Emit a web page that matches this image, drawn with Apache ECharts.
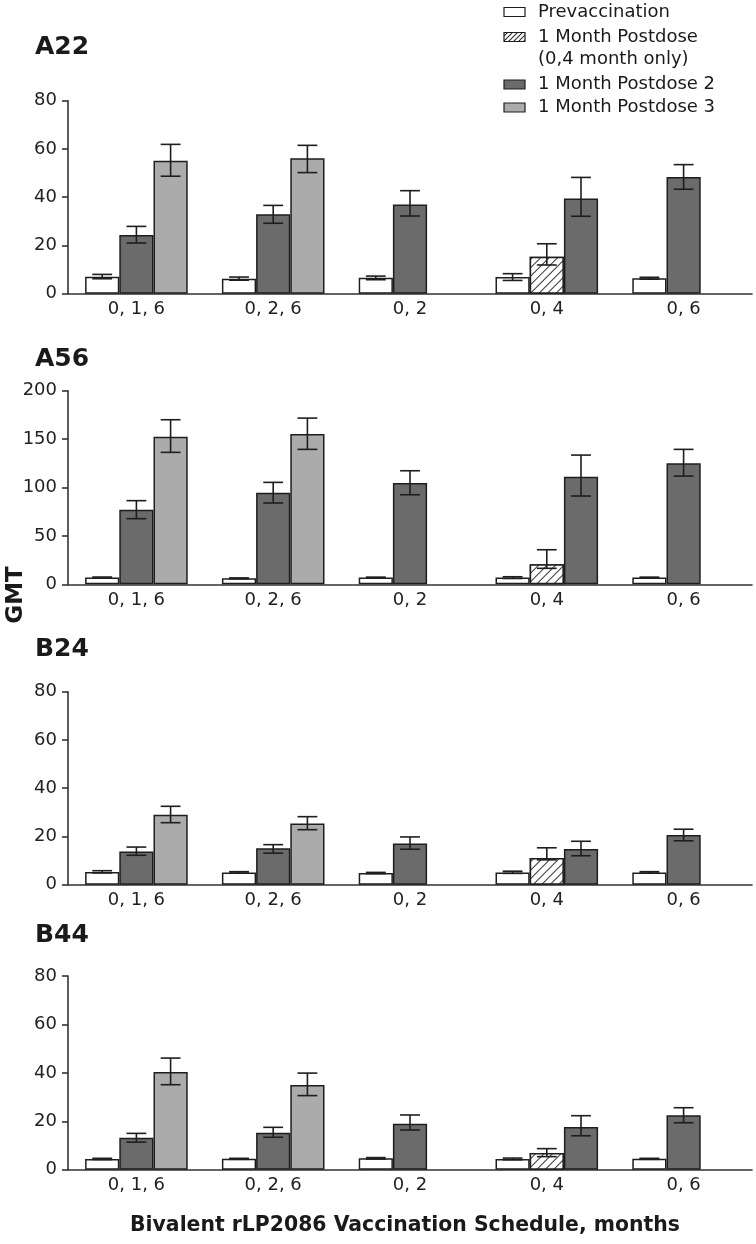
<!DOCTYPE html>
<html><head><meta charset="utf-8">
<script src="https://cdn.jsdelivr.net/npm/echarts@6/dist/echarts.min.js"></script>
<style>html,body{margin:0;padding:0;background:#fff}#c{width:756px;height:1244px}</style>
</head><body><div id="c"></div>
<script>
// ---------------- DATA ----------------
const categories = ['0, 1, 6', '0, 2, 6', '0, 2', '0, 4', '0, 6'];
const panelNames = ['A22', 'A56', 'B24', 'B44'];
const yMax = [80, 200, 80, 80];
const yInterval = [20, 50, 20, 20];

// A22
const a22Prevac = [7.0, 6.2, 6.6, 6.9, 6.4];
const a22PrevacCI = [[6.2, 8.0], [5.6, 6.9], [5.8, 7.3], [5.5, 8.3], [6.0, 6.8]];
const a22Post1 = [null, null, null, 15.3, null];
const a22Post1CI = [null, null, null, [11.9, 20.7], null];
const a22Post2 = [24.3, 32.9, 37.0, 39.5, 48.4];
const a22Post2CI = [[21.0, 27.9], [29.2, 36.6], [32.2, 42.7], [32.1, 48.2], [43.3, 53.5]];
const a22Post3 = [55.1, 56.1, null, null, null];
const a22Post3CI = [[48.7, 61.9], [50.2, 61.5], null, null, null];

// A56
const a56Prevac = [6.9, 6.2, 6.9, 6.9, 6.9];
const a56PrevacCI = [[6.3, 7.5], [5.8, 6.6], [6.4, 7.4], [6.0, 7.8], [6.4, 7.4]];
const a56Post1 = [null, null, null, 20.6, null];
const a56Post1CI = [null, null, null, [16.5, 35.7], null];
const a56Post2 = [77.1, 94.6, 104.6, 111.2, 125.0];
const a56Post2CI = [[67.8, 86.4], [84.0, 105.3], [92.5, 117.3], [91.2, 133.5], [111.8, 139.4]];
const a56Post3 = [152.5, 155.2, null, null, null];
const a56Post3CI = [[136.3, 170.0], [139.4, 171.7], null, null, null];

// B24
const b24Prevac = [5.3, 5.1, 4.85, 5.1, 5.1];
const b24PrevacCI = [[4.9, 5.8], [4.8, 5.4], [4.6, 5.1], [4.7, 5.6], [4.8, 5.4]];
const b24Post1 = [null, null, null, 11.1, null];
const b24Post1CI = [null, null, null, [10.3, 15.3], null];
const b24Post2 = [13.8, 15.1, 17.1, 14.8, 20.6];
const b24Post2CI = [[12.2, 15.6], [13.1, 16.6], [14.7, 19.8], [12.0, 18.0], [18.2, 23.0]];
const b24Post3 = [29.0, 25.4, null, null, null];
const b24Post3CI = [[25.7, 32.5], [22.8, 28.2], null, null, null];

// B44
const b44Prevac = [4.4, 4.5, 4.7, 4.4, 4.5];
const b44PrevacCI = [[4.2, 4.7], [4.3, 4.7], [4.4, 5.0], [4.1, 4.8], [4.3, 4.7]];
const b44Post1 = [null, null, null, 6.9, null];
const b44Post1CI = [null, null, null, [5.4, 8.7], null];
const b44Post2 = [13.2, 15.3, 19.0, 17.6, 22.5];
const b44Post2CI = [[11.4, 15.0], [13.4, 17.5], [16.4, 22.6], [14.0, 22.3], [19.4, 25.6]];
const b44Post3 = [40.4, 35.0, null, null, null];
const b44Post3CI = [[35.1, 46.1], [30.6, 39.9], null, null, null];

// ---------------- BUILD ----------------
const panels = [
  {vals: [a22Prevac, a22Post1, a22Post2, a22Post3], cis: [a22PrevacCI, a22Post1CI, a22Post2CI, a22Post3CI]},
  {vals: [a56Prevac, a56Post1, a56Post2, a56Post3], cis: [a56PrevacCI, a56Post1CI, a56Post2CI, a56Post3CI]},
  {vals: [b24Prevac, b24Post1, b24Post2, b24Post3], cis: [b24PrevacCI, b24Post1CI, b24Post2CI, b24Post3CI]},
  {vals: [b44Prevac, b44Post1, b44Post2, b44Post3], cis: [b44PrevacCI, b44Post1CI, b44Post2CI, b44Post3CI]}
];

const INK = '#1e1e1e';
const FONT = '"DejaVu Sans", "Liberation Sans", Arial, sans-serif';
const hatchDecal = {
  symbol: 'rect', symbolSize: 1, color: '#333333', backgroundColor: '#ffffff',
  dashArrayX: [[1, 0]], dashArrayY: [1, 4.3], rotation: -Math.PI / 4
};
const kindStyles = [
  {color: '#ffffff', borderColor: INK, borderWidth: 1.5},
  {color: '#ffffff', borderColor: INK, borderWidth: 1.5, decal: hatchDecal},
  {color: '#6b6b6b', borderColor: INK, borderWidth: 1.5},
  {color: '#ababab', borderColor: INK, borderWidth: 1.5}
];

const gridDefs = [
  {top: 100.7, height: 193},
  {top: 390.7, height: 193.6},
  {top: 691.7, height: 193},
  {top: 976, height: 193.7}
];
const titleY = [47, 359, 649, 935.5];

const grid = [], xAxis = [], yAxis = [], series = [], graphic = [];

panels.forEach((p, pi) => {
  grid.push({left: 68, right: 4, top: gridDefs[pi].top, height: gridDefs[pi].height, containLabel: false});
  xAxis.push({
    type: 'category', gridIndex: pi, data: categories,
    axisTick: {show: false},
    axisLine: {lineStyle: {color: '#333', width: 1.6}},
    axisLabel: {fontSize: 18, color: '#222', margin: 7, fontFamily: FONT}
  });
  yAxis.push({
    type: 'value', gridIndex: pi, min: 0, max: yMax[pi], interval: yInterval[pi],
    splitLine: {show: false},
    axisLine: {show: true, lineStyle: {color: '#333', width: 1.6}},
    axisTick: {show: true, length: 6, lineStyle: {color: '#333', width: 1.6}},
    axisLabel: {fontSize: 18, color: '#222', margin: 11, fontFamily: FONT}
  });

  // assign to slots: order prevac, post1, post2, post3 (skip missing)
  const slots = [[], [], []];
  const errData = [];
  categories.forEach((c, ci) => {
    let s = 0;
    for (let k = 0; k < 4; k++) {
      const v = p.vals[k][ci];
      if (v == null) continue;
      slots[s][ci] = {value: v, itemStyle: kindStyles[k]};
      const ciPair = p.cis[k][ci];
      if (ciPair) errData.push([ci, s, ciPair[0], ciPair[1]]);
      s++;
    }
    for (; s < 3; s++) slots[s][ci] = '-';
  });
  slots.forEach((d) => {
    series.push({
      type: 'bar', xAxisIndex: pi, yAxisIndex: pi, data: d,
      barGap: '0%', barCategoryGap: '25%', silent: true, z: 2
    });
  });
  series.push({
    type: 'custom', xAxisIndex: pi, yAxisIndex: pi, data: errData, z: 5, silent: true,
    dimensions: ['cat', 'slot', 'lo', 'hi'],
    encode: {x: 0, y: [2, 3]},
    renderItem: function (params, api) {
      const i = api.value(0), s = api.value(1);
      const band = api.size([1, 0])[0];
      const bw = band * 0.75 / 3;
      const lo = api.coord([i, api.value(2)]);
      const hi = api.coord([i, api.value(3)]);
      const x = lo[0] + (s - 1) * bw;
      const half = bw * 0.29;
      const st = {stroke: INK, lineWidth: 1.6};
      return {type: 'group', children: [
        {type: 'line', shape: {x1: x, y1: hi[1], x2: x, y2: lo[1]}, style: st},
        {type: 'line', shape: {x1: x - half, y1: hi[1], x2: x + half, y2: hi[1]}, style: st},
        {type: 'line', shape: {x1: x - half, y1: lo[1], x2: x + half, y2: lo[1]}, style: st}
      ]};
    }
  });

  graphic.push({
    type: 'text', x: 35, y: titleY[pi],
    style: {text: panelNames[pi], font: 'bold 25px ' + FONT, fill: '#1a1a1a', verticalAlign: 'middle'}
  });
});

// hatch pattern canvas for legend icon
const pc = document.createElement('canvas');
pc.width = 5; pc.height = 5;
const pctx = pc.getContext('2d');
pctx.fillStyle = '#fff'; pctx.fillRect(0, 0, 5, 5);
pctx.strokeStyle = '#2a2a2a'; pctx.lineWidth = 1.1;
pctx.beginPath();
pctx.moveTo(-1, 6); pctx.lineTo(6, -1);
pctx.moveTo(-1, 1); pctx.lineTo(1, -1);
pctx.moveTo(4, 6); pctx.lineTo(6, 4);
pctx.stroke();

const legendRows = [
  {y: 12, fill: '#ffffff', text: 'Prevaccination'},
  {y: 37, fill: {image: pc, repeat: 'repeat'}, text: '1 Month Postdose'},
  {y: 59, fill: null, text: '(0,4 month only)'},
  {y: 84.5, fill: '#6b6b6b', text: '1 Month Postdose 2'},
  {y: 107.5, fill: '#ababab', text: '1 Month Postdose 3'}
];
legendRows.forEach(r => {
  if (r.fill) {
    graphic.push({type: 'rect', shape: {x: 504, y: r.y - 4.5, width: 21, height: 9},
      style: {fill: r.fill, stroke: INK, lineWidth: 1.2}});
  }
  graphic.push({type: 'text', x: 538, y: r.y, style: {text: r.text, font: '18px ' + FONT, fill: '#1a1a1a', verticalAlign: 'middle'}});
});

graphic.push({
  type: 'text', x: 405, y: 1226,
  style: {text: 'Bivalent rLP2086 Vaccination Schedule, months', font: 'bold 20.4px ' + FONT, fill: '#1a1a1a', align: 'center', verticalAlign: 'middle'}
});
graphic.push({
  type: 'text', x: 16, y: 595, rotation: Math.PI / 2,
  style: {text: 'GMT', font: 'bold 23px ' + FONT, fill: '#1a1a1a', align: 'center', verticalAlign: 'middle'}
});

const chart = echarts.init(document.getElementById('c'), null, {renderer: 'canvas'});
chart.setOption({
  backgroundColor: '#ffffff',
  animation: false,
  grid, xAxis, yAxis, series, graphic
});
</script>
</body></html>
